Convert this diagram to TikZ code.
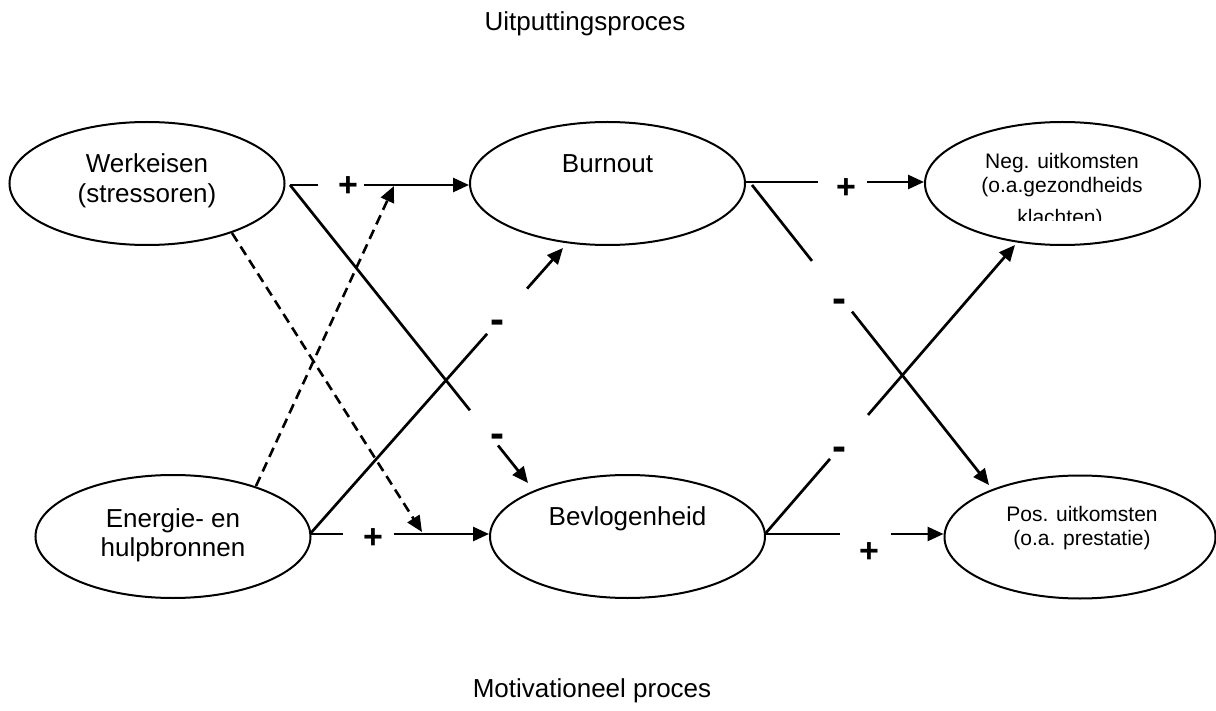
\documentclass[tikz,border=0pt]{standalone}
\usepackage{fontspec}
\setmainfont{Liberation Sans}
\usetikzlibrary{shapes.geometric,arrows.meta,calc}
\tikzset{
  el/.style={draw, ellipse, line width=2pt, minimum width=275pt, minimum height=123pt, inner sep=0pt},
  big/.style={font=\fontsize{26}{30}\selectfont, anchor=base, inner sep=0pt},
  small/.style={font=\fontsize{21}{25}\selectfont, anchor=base, inner sep=0pt},
  plus/.style={font=\fontsize{34}{34}\selectfont\bfseries, anchor=base, inner sep=0pt},
  minus/.style={font=\fontsize{42}{42}\selectfont\bfseries, anchor=base, inner sep=0pt},
  ln/.style={line width=2.7pt},
  dsh/.style={line width=2.6pt, dash pattern=on 10pt off 6pt},
  arr/.style={-{Triangle[length=16pt,width=14pt]}}
}
\begin{document}
\begin{tikzpicture}[x=1pt,y=-1pt]
\useasboundingbox (0,0) rectangle (1216,711);
% titles
\node[big] (t1) at (585,31) {Uitputtingsproces};
\node[big] (t2) at (592,697) {Motivationeel proces};
% ellipses
\node[el] (W) at (147,183.5) {};
\node[el] (B) at (607.5,183.5) {};
\node[el] (N) at (1062.5,183.5) {};
\node[el] (E) at (173,536.5) {};
\node[el] (V) at (627.5,536.5) {};
\node[el, minimum width=271pt] (P) at (1080,537) {};
% texts
\node[big] (W1) at (147,173) {Werkeisen};
\node[big] (W2) at (147,203) {(stressoren)};
\node[big] (B1) at (607.5,173) {Burnout};
\node[small] (N1) at (1062,169) {Neg. uitkomsten};
\node[small] (N2) at (1062,193) {(o.a.gezondheids};
\begin{scope}
  \clip (940,200) rectangle (1190,220.5);
  \node[small] (N3) at (1060,225) {klachten)};
\end{scope}
\node[big] (E1) at (173,527) {Energie- en};
\node[big] (E2) at (173,556) {hulpbronnen};
\node[big] (V1) at (627.5,525) {Bevlogenheid};
\node[small] (P1) at (1082,521) {Pos. uitkomsten};
\node[small] (P2) at (1082,545) {(o.a. prestatie)};
% connector end points
\coordinate (wo) at (290,185);
\coordinate (eo) at (310,534);
\coordinate (bo) at (746,182);
\coordinate (bd) at (752,185);
\coordinate (vo) at (765,534);
\coordinate (ws) at (232,233);
\coordinate (es) at (256,486);
\coordinate (c1) at (wo -| B.west);
\coordinate (c2) at (528,483);
\coordinate (c3) at (563,248);
\coordinate (c4) at (422,532);
\coordinate (c5) at (394,186);
\coordinate (c6) at (eo -| V.west);
\coordinate (c7) at (bo -| N.west);
\coordinate (c8) at (989,485);
\coordinate (c9) at (1015,245);
\coordinate (c10) at (vo -| P.west);
% W -> B (+)
\draw[ln] (wo) -- ($(wo)!0.156!(c1)$);
\draw[ln,arr] ($(wo)!0.411!(c1)$) -- (c1);
\node[plus] (p1) at (348,197) {+};
% W -> V (-)
\draw[ln] (wo) -- ($(wo)!0.756!(c2)$);
\draw[ln,arr] ($(wo)!0.874!(c2)$) -- (c2);
\node[minus] (m1) at (497,447) {-};
% E -> B (-)
\draw[ln] (eo) -- ($(eo)!0.700!(c3)$);
\draw[ln,arr] ($(eo)!0.858!(c3)$) -- (c3);
\node[minus] (m2) at (497,334) {-};
% dashed
\draw[dsh,arr] (ws) -- (c4);
\draw[dsh,arr] (es) -- (c5);
% E -> V (+)
\draw[ln] (eo) -- ($(eo)!0.183!(c6)$);
\draw[ln,arr] ($(eo)!0.467!(c6)$) -- (c6);
\node[plus] (p2) at (373,548) {+};
% B -> N (+)
\draw[ln] (bo) -- ($(bo)!0.402!(c7)$);
\draw[ln,arr] ($(bo)!0.682!(c7)$) -- (c7);
\node[plus] (p3) at (846,199) {+};
% B -> P (-)
\draw[ln] (bd) -- ($(bd)!0.253!(c8)$);
\draw[ln,arr] ($(bd)!0.422!(c8)$) -- (c8);
\node[minus] (m3) at (839,313) {-};
% V -> N (-)
\draw[ln] (vo) -- ($(vo)!0.26!(c9)$);
\draw[ln,arr] ($(vo)!0.412!(c9)$) -- (c9);
\node[minus] (m4) at (839,460) {-};
% V -> P (+)
\draw[ln] (vo) -- ($(vo)!0.419!(c10)$);
\draw[ln,arr] ($(vo)!0.704!(c10)$) -- (c10);
\node[plus] (p4) at (869,562) {+};
\end{tikzpicture}
\end{document}
